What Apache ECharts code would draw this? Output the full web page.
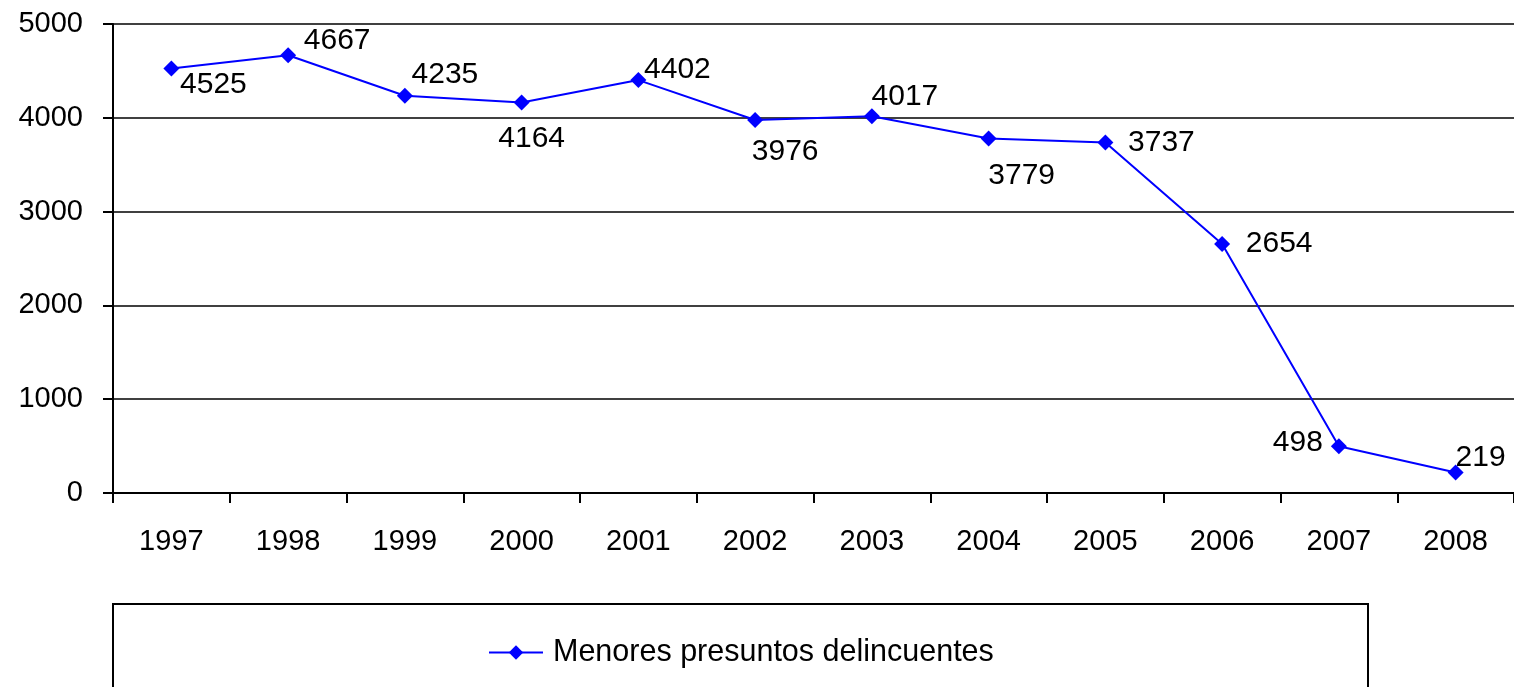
<!DOCTYPE html>
<html>
<head>
<meta charset="utf-8">
<script src="https://cdn.jsdelivr.net/npm/echarts@6/dist/echarts.min.js"></script>
<style>
  html, body { margin: 0; padding: 0; background: #fff; }
</style>
</head>
<body>
<div id="chart" style="width:1514px;height:687px;"></div>
<script type="text/javascript">
var years = ['1997', '1998', '1999', '2000', '2001', '2002', '2003', '2004', '2005', '2006', '2007', '2008'];
var menores = [4525, 4667, 4235, 4164, 4402, 3976, 4017, 3779, 3737, 2654, 498, 219];
var seriesName = 'Menores presuntos delincuentes';

// label centre relative to its point, like in the original sheet
var labelShift = [
    [42, 16], [49, -15], [40, -21], [10, 36], [39, -10], [30, 32],
    [33, -19], [33, 37], [56, 0], [57, 0], [-41, -4], [25, -15]
];

var myChart = echarts.init(document.getElementById('chart'));
var font = '"Liberation Sans", Arial, sans-serif';

var option = {
    backgroundColor: '#ffffff',
    animation: false,
    textStyle: { fontFamily: font },
    grid: { left: 113, right: 0, top: 24, bottom: 194, containLabel: false },
    graphic: [{
        type: 'rect',
        shape: { x: 113, y: 604, width: 1255, height: 200 },
        style: { fill: 'none', stroke: '#000', lineWidth: 2 },
        z: -1
    }],
    legend: {
        data: [seriesName],
        left: 483,
        top: 632,
        itemWidth: 54,
        itemHeight: 18,
        textStyle: { fontSize: 30.5, color: '#000', fontFamily: font, padding: [0, 0, 0, 5] }
    },
    xAxis: {
        type: 'category',
        data: years,
        boundaryGap: true,
        axisLine: { lineStyle: { color: '#000', width: 2 } },
        axisTick: { show: true, interval: 0, length: 10, lineStyle: { color: '#000', width: 2 } },
        axisLabel: { interval: 0, margin: 34, fontSize: 29, color: '#000', fontFamily: font },
        splitLine: { show: false }
    },
    yAxis: {
        type: 'value',
        min: 0,
        max: 5000,
        interval: 1000,
        axisLine: { show: true, lineStyle: { color: '#000', width: 2 } },
        axisTick: { show: true, length: 10, lineStyle: { color: '#000', width: 2 } },
        axisLabel: {
            margin: 30, fontSize: 29, color: '#000', fontFamily: font,
            formatter: function (v) { return String(v); }
        },
        splitLine: { show: true, lineStyle: { color: '#000', width: 1.5 } }
    },
    series: [{
        name: seriesName,
        type: 'line',
        symbol: 'diamond',
        symbolSize: 16,
        color: '#0000ff',
        lineStyle: { color: '#0000ff', width: 2 },
        itemStyle: { color: '#0000ff' },
        label: {
            show: true, position: 'inside', align: 'center', verticalAlign: 'middle',
            fontSize: 30, color: '#000', fontFamily: font
        },
        data: menores.map(function (v, i) {
            return { value: v, label: { offset: labelShift[i] } };
        })
    }]
};
myChart.setOption(option);
</script>
</body>
</html>
